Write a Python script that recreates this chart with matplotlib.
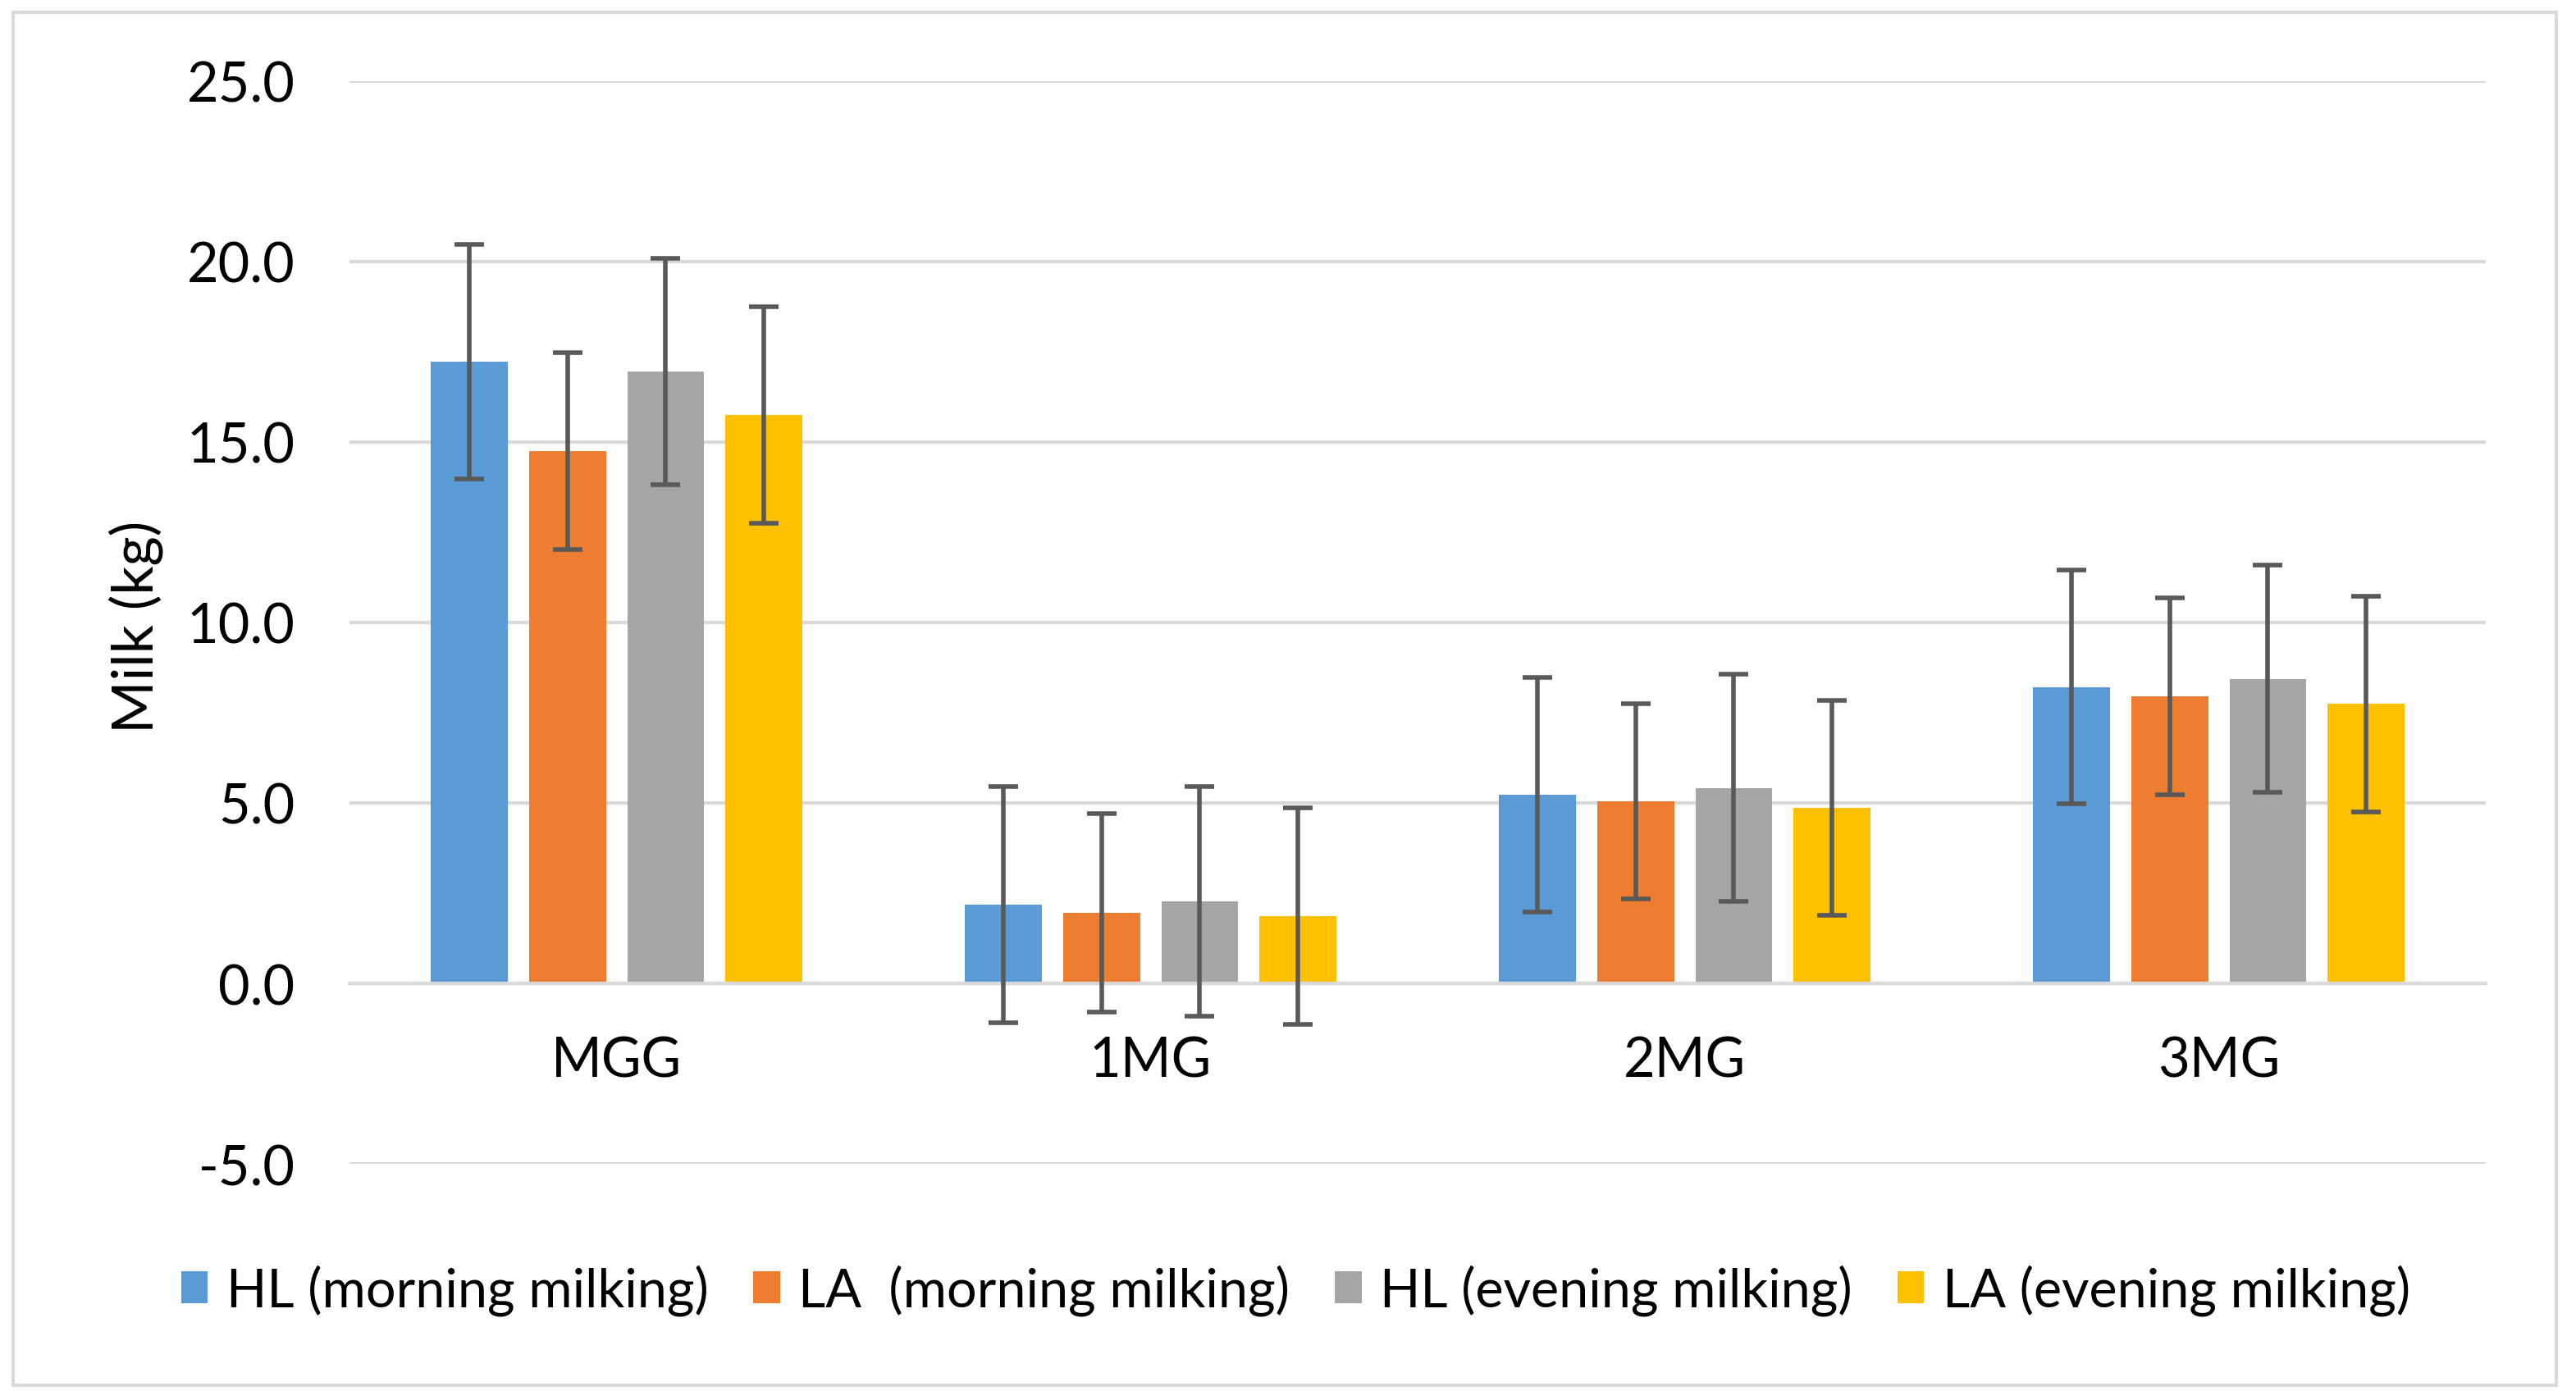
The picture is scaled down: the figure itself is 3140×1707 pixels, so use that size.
import numpy as np
import matplotlib
matplotlib.use('Agg')
import matplotlib.pyplot as plt
from matplotlib.patches import Rectangle, Patch

plt.rcParams['font.family'] = ['Lato', 'DejaVu Sans']

# data
categories = ['MGG', '1MG', '2MG', '3MG']
series_names = ['HL (morning milking)', 'LA  (morning milking)',
                'HL (evening milking)', 'LA (evening milking)']
hl_morning = [17.23, 2.18, 5.23, 8.21]
la_morning = [14.75, 1.95, 5.05, 7.95]
hl_evening = [16.95, 2.27, 5.42, 8.44]
la_evening = [15.75, 1.87, 4.86, 7.74]
hl_morning_err = [3.25, 3.27, 3.25, 3.24]
la_morning_err = [2.73, 2.75, 2.71, 2.72]
hl_evening_err = [3.14, 3.18, 3.14, 3.14]
la_evening_err = [3.0, 3.0, 2.98, 2.98]
colors = ['#5B9BD5', '#ED7D31', '#A5A5A5', '#FFC000']

values = [hl_morning, la_morning, hl_evening, la_evening]
errors = [hl_morning_err, la_morning_err, hl_evening_err, la_evening_err]

fig = plt.figure(figsize=(15.7, 8.54), dpi=200)
ax = fig.add_axes([0.1357, 0.1686, 0.965 - 0.1357, 0.9415 - 0.1686])

x = np.arange(len(categories))
pitch = 0.184
width = 0.144
for i, (vals, errs, col) in enumerate(zip(values, errors, colors)):
    pos = x + (i - 1.5) * pitch
    ax.bar(pos, vals, width=width, color=col, zorder=2, label=series_names[i])
    ax.errorbar(pos, vals, yerr=errs, fmt='none', ecolor='#595959',
                elinewidth=2.0, capsize=6.5, capthick=2.0, zorder=3)

ax.set_xlim(-0.5, len(categories) - 0.5)
ax.set_ylim(-5, 25)
ax.set_yticks(np.arange(-5, 25.1, 5))
ax.set_yticklabels([f'{v:.1f}' for v in np.arange(-5, 25.1, 5)])
ax.set_xticks(x)
ax.set_xticklabels(categories)
ax.grid(axis='y', color='#D9D9D9', linewidth=1.5, zorder=0)
ax.set_axisbelow(True)
for s in ['top', 'right', 'left']:
    ax.spines[s].set_visible(False)
ax.spines['bottom'].set_position(('data', 0))
ax.spines['bottom'].set_color('#D9D9D9')
ax.spines['bottom'].set_linewidth(1.5)
ax.tick_params(axis='both', length=0, labelsize=24, colors='black')
ax.tick_params(axis='y', pad=24)
ax.tick_params(axis='x', pad=23)

fig.text(166 / 3140, 1 - 764 / 1708, 'Milk (kg)', rotation=90,
         ha='center', va='center', fontsize=25)

handles = [Patch(facecolor=c, edgecolor='none') for c in colors]
fig.legend(handles, series_names, loc='center',
           bbox_to_anchor=(0.503, 1 - 1574 / 1708), ncol=4, frameon=False,
           fontsize=23.3, handlelength=0.5, handleheight=0.55,
           handletextpad=0.35, columnspacing=0.85)

# outer chart border
fig.patches.append(Rectangle((16 / 3140, 18 / 1708), 3100 / 3140, 1674 / 1708,
                             transform=fig.transFigure, fill=False,
                             edgecolor='#D9D9D9', linewidth=1.5))

fig.savefig('out.png', dpi=200, facecolor='white')
